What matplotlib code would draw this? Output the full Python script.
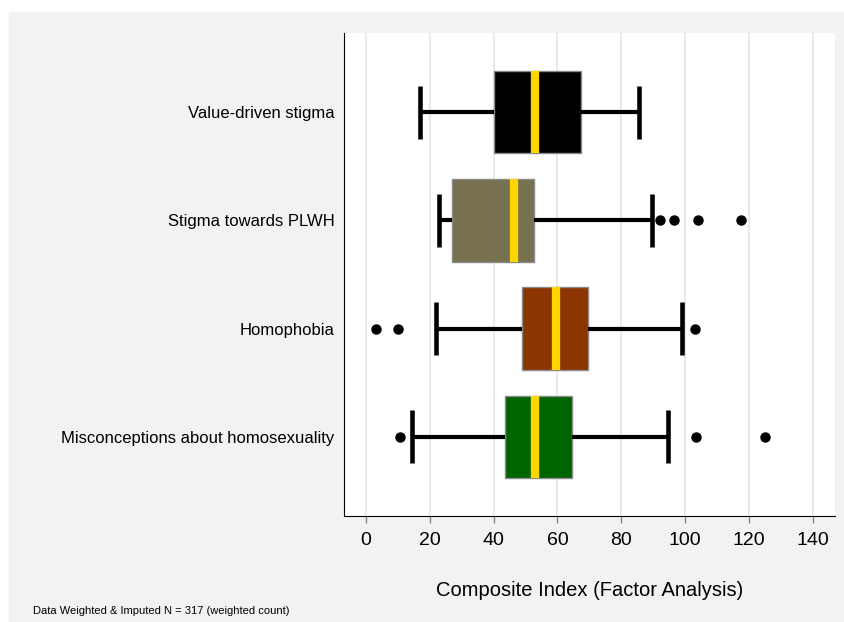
import matplotlib
matplotlib.use("Agg")
import matplotlib.pyplot as plt
from matplotlib.patches import Rectangle

# box summaries (top to bottom)
labels = ["Value-driven stigma", "Stigma towards PLWH", "Homophobia",
          "Misconceptions about homosexuality"]
whislo = [17, 23, 22, 14.5]
q1 = [40, 27, 49, 43.5]
med = [53, 46.5, 59.5, 53]
q3 = [67.5, 52.5, 69.5, 64.5]
whishi = [85.5, 89.5, 99, 94.5]
fliers = [[], [92, 96.5, 104, 117.5], [3, 10, 103], [10.5, 103.5, 125]]
box_colors = ["#000000", "#777150", "#8c3500", "#006400"]
xticks = [0, 20, 40, 60, 80, 100, 120, 140]

plt.rcParams['font.family'] = ['Liberation Sans', 'DejaVu Sans']

fig = plt.figure(figsize=(8.44, 6.22), dpi=100, facecolor="white")
fig.patches.append(Rectangle((9 / 844, 0), 1, (622 - 12) / 622,
                             transform=fig.transFigure, color="#f2f2f2", zorder=-1))
ax = fig.add_axes([344 / 844, 106 / 622, 491 / 844, 483 / 622])
ax.set_facecolor("white")

stats = []
for i in range(len(labels)):
    stats.append({"whislo": whislo[i], "q1": q1[i], "med": med[i], "q3": q3[i],
                  "whishi": whishi[i], "fliers": fliers[i], "label": labels[i]})
positions = list(range(len(labels), 0, -1))

res = ax.bxp(stats, positions=positions, widths=0.76, capwidths=0.49,
             orientation="horizontal", patch_artist=True, showfliers=True,
             boxprops=dict(edgecolor="#8a8a8a", linewidth=1.0),
             whiskerprops=dict(color="black", linewidth=3.0, solid_capstyle="butt"),
             capprops=dict(color="black", linewidth=3.3, solid_capstyle="butt"),
             medianprops=dict(color="#ffd500", linewidth=6.0, solid_capstyle="butt"),
             flierprops=dict(marker="o", markerfacecolor="black",
                             markeredgecolor="black", markersize=6.5))
for patch, c in zip(res["boxes"], box_colors):
    patch.set_facecolor(c)

ax.set_xlim(-6.9, 147)
ax.set_ylim(0.27, 4.73)
ax.set_xticks(xticks)
ax.xaxis.grid(True, color="#e8e8e8", linewidth=1.3)
ax.set_axisbelow(True)
ax.tick_params(axis="x", length=5, width=1, color="#888888", labelsize=14, pad=6.5)
ax.tick_params(axis="y", length=0, labelsize=12, pad=7)
for s in ["top", "right"]:
    ax.spines[s].set_visible(False)
ax.spines["left"].set_color("black")
ax.spines["bottom"].set_color("black")
ax.set_xlabel("Composite Index (Factor Analysis)", fontsize=14.5, labelpad=23)

fig.text(33 / 844, 1 - 611 / 622, "Data Weighted & Imputed N = 317 (weighted count)",
         fontsize=8, va="center", ha="left")

fig.savefig("out.png", dpi=100, facecolor=fig.get_facecolor())
